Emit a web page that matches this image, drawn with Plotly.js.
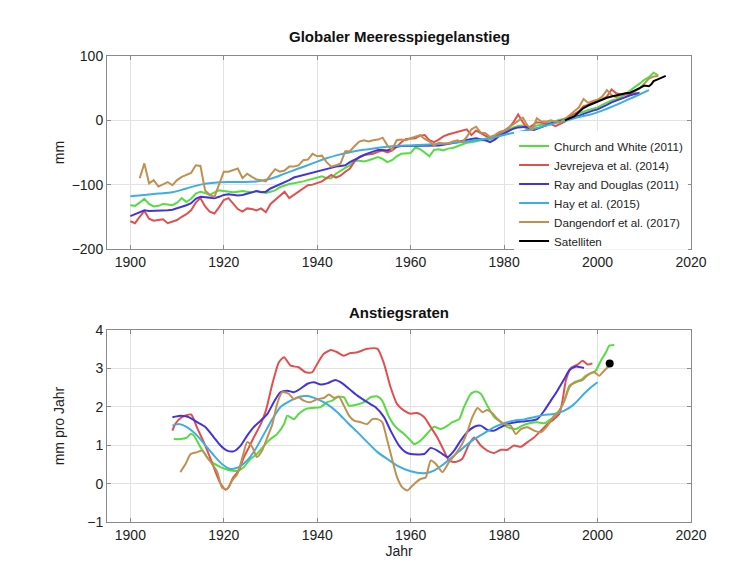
<!DOCTYPE html>
<html><head><meta charset="utf-8">
<script src="https://cdn.plot.ly/plotly-3.0.1.min.js"></script>
<style>html,body{margin:0;padding:0;background:#fff;}#chart{width:747px;height:562px;}</style>
</head><body><div id="chart"></div>
<script>
// ---------- Top panel: Globaler Meeresspiegelanstieg (mm) ----------
const cwStart = 1900;
const cwVals = [-132,-133,-128,-122,-130,-134,-133,-130,-131,-132,-128,-121,-127,-122,-114,-111,-113,-116,-112,-109,
 -110,-111,-112,-111,-110,-111,-112,-110,-112,-113,-111,-109,-104,-101,-99,-98,-97,-95,-93,-91,
 -88,-87,-90,-90,-83,-78,-74,-70,-63,-63,-64,-62,-60,-57,-60,-65,-62,-56,-52,-51,
 -51,-42,-45,-50,-56,-46,-45,-47,-44,-43,-40,-37,-35,-34,-32,-31,-31,-30,-27,-23,
 -19,-15,-11,-9,-8,-15,-12,-8,-7,-5,-4,-2,0,2,5,8,11,14,16,18,
 20,24,28,31,33,36,41,47,52,57,63,67,74,70];

const jvStart = 1900;
const jvVals = [-157,-160,-150,-141,-153,-156,-155,-154,-160,-158,-155,-150,-146,-140,-128,-121,-134,-142,-145,-135,
 -124,-121,-130,-138,-142,-137,-138,-140,-137,-143,-130,-124,-118,-111,-121,-116,-111,-106,-101,-100,
 -98,-95,-90,-85,-89,-86,-80,-75,-64,-57,-54,-53,-52,-49,-47,-50,-47,-41,-34,-29,
 -28,-28,-24,-23,-31,-34,-30,-25,-22,-20,-18,-17,-14,-23,-16,-20,-24,-28,-26,-20,
 -16,-12,-3,9,-3,-13,-8,-3,-4,-5,-6,-9,-6,-2,6,10,14,22,24,29,
 30,33,37,48,42,40,40,40,42,40];

const rdStart = 1900;
const rdVals = [-149,-146,-143,-140,-141,-141,-140,-140,-140,-139,-137,-135,-132,-129,-122,-119,-120,-120,-121,-119,
 -116,-115,-116,-117,-116,-114,-112,-110,-112,-111,-106,-103,-99,-96,-93,-89,-87,-85,-83,-81,
 -79,-78,-76,-73,-72,-71,-70,-65,-61,-57,-54,-51,-49,-46,-46,-47,-44,-41,-40,-40,
 -39,-40,-39,-39,-39,-39,-39,-38,-37,-36,-34,-32,-30,-29,-28,-29,-31,-34,-30,-24,
 -20,-16,-13,-11,-10,-10,-16,-13,-10,-8,-5,-3,-1,1,2,4,7,10,13,15,
 17,20,24,28,31,34,36,39,41,43];

const hayYears = [1900,1903,1906,1909,1912,1915,1918,1921,1924,1927,1930,1933,1936,1939,1942,1945,1948,1951,1954,1957,
 1960,1963,1966,1969,1972,1975,1978,1981,1984,1987,1990,1993,1996,1999,2002,2005,2008,2011];
const hayVals = [-118,-116,-114,-112,-106,-100,-97,-96,-96,-95,-91,-83,-75,-67,-59,-53,-48,-45,-42,-40,
 -39,-38,-37,-35,-33,-30,-26,-21,-17,-12,-6,-1,5,10,18,27,37,47];

const dgStart = 1902;
const dgVals = [-90,-67,-98,-93,-103,-99,-96,-101,-93,-88,-85,-82,-70,-71,-109,-116,-119,-98,
 -80,-80,-78,-75,-90,-83,-88,-92,-93,-95,-85,-76,-80,-78,-72,-72,-70,-62,-61,-52,
 -56,-55,-65,-72,-70,-67,-48,-48,-40,-33,-31,-33,-31,-30,-27,-39,-46,-31,-30,-31,
 -28,-25,-23,-29,-33,-39,-35,-36,-36,-33,-31,-34,-26,-14,-10,-19,-20,-26,-23,-18,
 -16,-11,-6,-2,4,-8,-15,3,-2,-2,0,-2,-3,2,8,15,20,33,27,30,
 32,37,47,39,36,40,41,43,45,50,57,65,68,69];

const satYears = [1993,1994,1995,1996,1997,1998,1999,2000,2001,2002,2003,2004,2005,2006,2007,2008,2009,2010,2011,2011.5,2012,2013,2014,2014.6];
const satVals  = [0,3,6,13,19,23,26,30,33,35,37,39,41,42,43,46,50,54,53,56,61,64,67,69];

// ---------- Bottom panel: Anstiegsraten (mm pro Jahr) ----------
const cwRateYears = [1909.3,1910.7,1912.1,1912.9,1913.6,1915,1917,1919.3,1921.4,1923.2,1924.3,1925.7,1927.1,1928.6,1930,1931.4,1932.9,1933.6,1935,1936,
 1937.5,1938.9,1940.7,1942.1,1943.2,1944.3,1945.7,1946.8,1948.6,1950,1951.4,1952.9,1953.9,1955.4,1956.8,1958.6,1960,1960.7,1962.1,1963.6,
 1965,1966.4,1967.9,1968.9,1970.4,1971.4,1972.9,1974,1975,1976.4,1977.9,1979.3,1980.7,1982.5,1983.9,1985.4,1987.1,1988.6,1990,1991.4,
 1992.9,1994,1995,1996.4,1997.5,1998.6,1999.6,2000.7,2001.8,2002.5,2003.6];
const cwRateVals = [1.16,1.16,1.2,1.29,1.25,0.95,0.6,0.43,0.34,0.34,0.43,0.64,0.77,0.99,1.16,1.29,1.55,1.77,1.68,1.81,
 1.94,1.97,1.99,2.12,2.16,2.25,2.25,2.03,2.06,2.12,2.25,2.27,2.16,1.73,1.47,1.29,1.12,1.03,1.12,1.31,
 1.48,1.42,1.51,1.6,1.68,1.99,2.34,2.4,2.34,2.03,1.73,1.6,1.47,1.42,1.51,1.57,1.6,1.57,1.68,1.81,
 2.16,2.51,2.64,2.7,2.81,2.87,2.94,3.2,3.42,3.59,3.61];

const jvRateYears = [1909,1909.6,1911,1913,1914.3,1916,1918,1919.3,1920.4,1921,1922,1923.2,1924.3,1925.4,1926.4,1927.9,1929,1930.4,1931.8,1932.9,
 1934.3,1936,1937.5,1938.9,1940,1941.4,1942.9,1944.3,1945.7,1947.1,1948.6,1950.7,1952.9,1954.3,1955.7,1957.1,1958.6,1960,1961.4,1962.9,
 1964.3,1965.7,1967.1,1968.2,1969.6,1971,1972.5,1973.6,1975,1976.4,1977.9,1979.3,1980.7,1982.1,1983.6,1985,1986.4,1987.9,1989.3,1990.7,
 1991.8,1992.5,1993.2,1994.3,1995.7,1996.8,1997.9,1998.9];
const jvRateVals = [1.38,1.55,1.73,1.8,1.45,1.0,0.38,0.0,-0.16,-0.1,0.16,0.34,0.69,0.95,1.2,1.55,1.9,2.6,3.16,3.29,
 3.07,3.03,2.9,2.9,3.12,3.38,3.48,3.42,3.33,3.4,3.42,3.51,3.51,3.12,2.51,2.07,1.9,1.82,1.84,1.73,
 1.47,1.2,0.86,0.6,0.56,0.64,1.03,1.2,0.99,0.86,0.8,0.88,0.88,0.99,0.96,1.08,1.2,1.38,1.55,1.68,
 1.81,2.16,2.68,3.01,3.1,3.2,3.1,3.13];

const rdRateYears = [1909,1910.7,1912.5,1914.3,1916.1,1917.9,1919.3,1920.7,1922.1,1923.6,1925,1926.4,1927.9,1929.3,1930.7,1932.1,1933.6,1935,1936.4,1937.9,
 1939.3,1940.7,1942.1,1943.9,1945,1946.8,1948.6,1950.7,1952.5,1954.3,1955.7,1957.5,1958.9,1960,1961.4,1962.9,1964.3,1965.7,1966.8,1967.9,
 1969.3,1970.7,1972.1,1973.6,1975,1976.4,1977.9,1979.3,1980.7,1982.5,1984.3,1985.7,1987.1,1988.6,1990,1991.4,1992.9,1994,1995.4,1997.1];
const rdRateVals = [1.73,1.77,1.73,1.6,1.47,1.2,0.99,0.86,0.84,0.99,1.25,1.47,1.64,1.81,2.12,2.38,2.42,2.38,2.47,2.6,
 2.64,2.58,2.61,2.7,2.64,2.47,2.29,2.12,1.99,1.73,1.38,0.99,0.82,0.77,0.76,0.77,0.93,0.86,0.77,0.69,
 0.86,1.12,1.34,1.48,1.51,1.4,1.38,1.47,1.55,1.6,1.62,1.64,1.68,1.9,2.16,2.42,2.73,2.96,3.05,3.01];

const hayRateYears = [1909,1910.4,1912.1,1914.3,1916.1,1917.9,1919.6,1921.4,1923.2,1925,1926.8,1928.6,1930.4,1932.1,1934.3,1936.4,1937.9,1940,1942.1,1944.3,
 1946.4,1948.6,1950.7,1952.9,1955,1957.1,1960,1962.9,1965,1967.1,1969.3,1971.4,1973.6,1975.7,1977.9,1980,1982.1,1984.3,1986.4,1988.6,
 1990.7,1992.9,1995,1997.1,1998.6,2000];
const hayRateVals = [1.51,1.55,1.47,1.25,0.99,0.73,0.51,0.38,0.43,0.6,0.9,1.29,1.68,1.99,2.16,2.27,2.28,2.2,2.07,1.86,
 1.6,1.34,1.08,0.82,0.64,0.47,0.32,0.27,0.34,0.51,0.73,0.95,1.16,1.31,1.47,1.57,1.64,1.67,1.73,1.79,
 1.81,1.9,2.07,2.34,2.51,2.64];

const dgRateYears = [1910.7,1911.8,1912.9,1914.3,1915.4,1916.4,1917.5,1918.6,1919.6,1920.7,1921.8,1922.9,1924,1925,1926.1,1927.1,1928.2,1929.3,1930.4,1931.4,
 1932.5,1933.9,1935,1936,1937.1,1938.6,1940,1941.4,1942.5,1943.6,1944.6,1945.7,1946.8,1947.9,1949.3,1950.7,1951.8,1952.9,1953.9,1955,
 1956.1,1957.1,1958.2,1959.3,1960,1961.1,1962.1,1963.2,1964.3,1965.4,1966.8,1968.2,1969.6,1971,1972.1,1973.2,1974.3,1975.4,1976.4,1977.5,
 1978.6,1980,1981.4,1982.5,1983.6,1985,1986.4,1987.9,1989.3,1990.7,1991.8,1992.9,1994,1995.4,1996.8,1998.2,1999.3,2000.4,2001.4,2002.5];
const dgRateVals = [0.3,0.51,0.77,0.82,0.86,0.69,0.51,0.3,-0.1,-0.14,0.08,0.25,0.69,1.08,0.95,0.69,0.86,1.2,1.55,2.07,
 2.38,2.34,2.2,2.25,2.16,2.12,2.2,2.23,2.32,2.23,2.27,2.03,1.77,1.64,1.6,1.55,1.68,1.68,1.6,1.12,
 0.6,0.16,-0.1,-0.18,-0.1,0.03,0.12,0.16,0.6,0.51,0.3,0.56,0.77,1.03,1.34,1.73,1.97,1.86,1.92,1.83,
 1.68,1.55,1.51,1.29,1.42,1.47,1.38,1.34,1.51,1.77,1.9,2.16,2.55,2.64,2.7,2.86,2.9,2.81,2.94,3.07];

const satRateYears = [2002.6];
const satRateVals = [3.13];

const seriesNames = ['Church and White (2011)','Jevrejeva et al. (2014)','Ray and Douglas (2011)','Hay et al. (2015)','Dangendorf et al. (2017)','Satelliten'];
const seriesColors = ['#55dd3f','#e0504f','#4433dd','#3daee0','#c09050','#000000'];

function yearsFrom(start, n){ const a=[]; for(let i=0;i<n;i++) a.push(start+i); return a; }

const topX = [yearsFrom(cwStart,cwVals.length), yearsFrom(jvStart,jvVals.length), yearsFrom(rdStart,rdVals.length), hayYears, yearsFrom(dgStart,dgVals.length), satYears];
const topY = [cwVals, jvVals, rdVals, hayVals, dgVals, satVals];
const botX = [cwRateYears, jvRateYears, rdRateYears, hayRateYears, dgRateYears];
const botY = [cwRateVals, jvRateVals, rdRateVals, hayRateVals, dgRateVals];

const traces = [];
for (let i=0;i<6;i++){
  traces.push({x:topX[i], y:topY[i], type:'scatter', mode:'lines', name:seriesNames[i],
    line:{color:seriesColors[i], width:2, shape: i===3 ? 'spline' : 'linear'}, xaxis:'x', yaxis:'y', hoverinfo:'skip'});
}
for (let i=0;i<5;i++){
  traces.push({x:botX[i], y:botY[i], type:'scatter', mode:'lines', showlegend:false,
    line:{color:seriesColors[i], width:2, shape:'spline', smoothing:0.6}, xaxis:'x2', yaxis:'y2', hoverinfo:'skip'});
}
traces.push({x:satRateYears, y:satRateVals, type:'scatter', mode:'markers', showlegend:false,
  marker:{color:'#000', size:8}, xaxis:'x2', yaxis:'y2', hoverinfo:'skip'});

const FONT = 'Liberation Sans, Arial, sans-serif';
const axCommon = {
  showline:true, mirror:'allticks', linecolor:'#8a8a8a', linewidth:1,
  ticks:'inside', ticklen:4, tickcolor:'#8a8a8a',
  showgrid:true, gridcolor:'#e2e2e2', gridwidth:1, zeroline:false,
  tickfont:{family:FONT, size:14, color:'#222'}
};

const layout = {
  width:747, height:562,
  paper_bgcolor:'#fff', plot_bgcolor:'#fff',
  margin:{l:107, r:56, t:56, b:40},
  font:{family:FONT, color:'#222'},
  xaxis: Object.assign({}, axCommon, {domain:[0,1], range:[1895,2020], tick0:1900, dtick:20, anchor:'y'}),
  yaxis: Object.assign({}, axCommon, {domain:[0.586,1], range:[-200,100], tick0:-200, dtick:100, anchor:'x',
    title:{text:'mm', font:{family:FONT, size:14, color:'#222'}, standoff:3}}),
  xaxis2: Object.assign({}, axCommon, {domain:[0,1], range:[1895,2020], tick0:1900, dtick:20, anchor:'y2',
    title:{text:'Jahr', font:{family:FONT, size:14, color:'#222'}, standoff:2}}),
  yaxis2: Object.assign({}, axCommon, {domain:[0,0.412], range:[-1,4], tick0:-1, dtick:1, anchor:'x2',
    title:{text:'mm pro Jahr', font:{family:FONT, size:14, color:'#222'}, standoff:19}}),
  showlegend:true,
  legend:{x:0.995, xanchor:'right', y:0.838, yanchor:'top', bgcolor:'rgba(255,255,255,0.9)', borderwidth:0,
    font:{family:FONT, size:11.6, color:'#222'}, tracegroupgap:0, itemwidth:30},
  annotations:[
    {text:'<b>Globaler Meeresspiegelanstieg</b>', xref:'paper', yref:'paper', x:0.5, y:1.041, xanchor:'center', yanchor:'middle',
      showarrow:false, font:{family:FONT, size:15, color:'#111'}},
    {text:'<b>Anstiegsraten</b>', xref:'paper', yref:'paper', x:0.5, y:0.4506, xanchor:'center', yanchor:'middle',
      showarrow:false, font:{family:FONT, size:15, color:'#111'}}
  ]
};

Plotly.newPlot('chart', traces, layout, {displayModeBar:false, staticPlot:true});
</script>
</body></html>
